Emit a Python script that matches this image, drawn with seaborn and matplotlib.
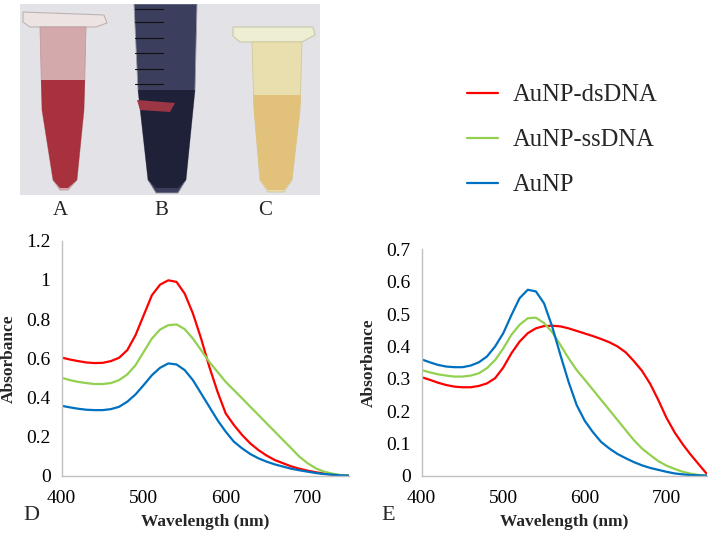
import matplotlib
matplotlib.use("Agg")
import matplotlib.pyplot as plt
from matplotlib.patches import Polygon, Rectangle
import pandas as pd
import seaborn as sns

# ---- data (every 10 nm) ----
wavelength = [400, 410, 420, 430, 440, 450, 460, 470, 480, 490,
              500, 510, 520, 530, 540, 550, 560, 570, 580, 590,
              600, 610, 620, 630, 640, 650, 660, 670, 680, 690,
              700, 710, 720, 730, 740, 750]

# panel D
d_dsdna = [0.604, 0.594, 0.586, 0.579, 0.576, 0.577, 0.586, 0.603, 0.642, 0.718,
           0.82, 0.922, 0.976, 0.998, 0.99, 0.93, 0.829, 0.701, 0.557, 0.43,
           0.319, 0.26, 0.209, 0.166, 0.132, 0.104, 0.081, 0.065, 0.049, 0.037,
           0.027, 0.019, 0.012, 0.007, 0.003, 0.002]
d_ssdna = [0.501, 0.489, 0.48, 0.474, 0.469, 0.469, 0.474, 0.489, 0.518, 0.565,
           0.633, 0.701, 0.747, 0.769, 0.773, 0.749, 0.701, 0.642, 0.582, 0.531,
           0.48, 0.438, 0.396, 0.353, 0.311, 0.268, 0.226, 0.183, 0.141, 0.098,
           0.065, 0.039, 0.022, 0.012, 0.005, 0.002]
d_aunp = [0.358, 0.35, 0.343, 0.338, 0.336, 0.336, 0.341, 0.353, 0.379, 0.416,
          0.464, 0.514, 0.552, 0.574, 0.569, 0.54, 0.489, 0.421, 0.353, 0.285,
          0.226, 0.175, 0.141, 0.112, 0.09, 0.073, 0.059, 0.048, 0.037, 0.029,
          0.022, 0.015, 0.01, 0.007, 0.003, 0.002]

# panel E
e_dsdna = [0.305, 0.297, 0.288, 0.281, 0.276, 0.274, 0.274, 0.278, 0.286, 0.302,
           0.335, 0.379, 0.415, 0.441, 0.456, 0.463, 0.464, 0.462, 0.456, 0.448,
           0.44, 0.432, 0.423, 0.413, 0.40, 0.382, 0.355, 0.325, 0.285, 0.235,
           0.18, 0.135, 0.098, 0.065, 0.035, 0.005]
e_ssdna = [0.327, 0.32, 0.314, 0.31, 0.307, 0.307, 0.31, 0.317, 0.333, 0.358,
           0.394, 0.436, 0.467, 0.487, 0.489, 0.472, 0.444, 0.405, 0.364, 0.327,
           0.297, 0.266, 0.235, 0.204, 0.173, 0.142, 0.111, 0.085, 0.065, 0.046,
           0.032, 0.022, 0.013, 0.007, 0.003, 0.001]
e_aunp = [0.36, 0.351, 0.343, 0.338, 0.336, 0.336, 0.341, 0.351, 0.369, 0.40,
          0.441, 0.497, 0.549, 0.575, 0.57, 0.533, 0.461, 0.374, 0.291, 0.219,
          0.17, 0.135, 0.105, 0.085, 0.068, 0.055, 0.043, 0.033, 0.025, 0.019,
          0.013, 0.008, 0.005, 0.003, 0.002, 0.001]

samples = ["AuNP-dsDNA", "AuNP-ssDNA", "AuNP"]
colores = ["#ff0000", "#92d050", "#0070c0"]
x_ticks = [400, 500, 600, 700]
d_yticks = [0, 0.2, 0.4, 0.6, 0.8, 1.0, 1.2]
e_yticks = [0, 0.1, 0.2, 0.3, 0.4, 0.5, 0.6, 0.7]
tube_labels = ["A", "B", "C"]
panel_labels = ["D", "E"]


def to_long(series):
    frames = []
    for name, vals in zip(samples, series):
        frames.append(pd.DataFrame({"Wavelength": wavelength,
                                    "Absorbance": vals,
                                    "Sample": name}))
    return pd.concat(frames, ignore_index=True)


sns.set_style("white")
plt.rcParams["font.family"] = ["Liberation Serif", "DejaVu Serif"]

W, H = 708, 536
fig = plt.figure(figsize=(W / 100, H / 100), dpi=100)


def fx(px):
    return px / W


def fy(py):
    return 1 - py / H


# ---- photo of the tubes (drawn schematically) ----
ax_p = fig.add_axes([fx(20), fy(195), fx(300), 191 / H])
ax_p.set_xlim(20, 320)
ax_p.set_ylim(195, 4)
ax_p.axis("off")
ax_p.add_patch(Rectangle((20, 4), 300, 191, facecolor="#e3e3e7", edgecolor="none"))

# tube A
ax_p.add_patch(Polygon([(23, 12), (104, 15), (107, 23), (96, 27), (30, 27), (23, 22)],
                       facecolor="#ece4e2", edgecolor="#bdb3b3", lw=0.8))
ax_p.add_patch(Polygon([(40, 27), (86, 27), (84, 110), (77, 180), (68, 190), (60, 190),
                        (53, 180), (42, 110)], facecolor="#d3a9ac", edgecolor="#c09a9c", lw=0.6))
ax_p.add_patch(Polygon([(41, 80), (85, 80), (84, 110), (77, 180), (68, 188), (60, 188),
                        (53, 180), (42, 110)], facecolor="#a8313e", edgecolor="none"))

# tube B
ax_p.add_patch(Polygon([(134, 4), (197, 4), (195, 90), (186, 180), (178, 193), (156, 193),
                        (148, 180), (138, 90)], facecolor="#3b3e5c", edgecolor="#9a9aa8", lw=0.6))
ax_p.add_patch(Polygon([(138, 90), (195, 90), (186, 180), (178, 188), (156, 188),
                        (148, 180)], facecolor="#1f2139", edgecolor="none"))
ax_p.add_patch(Polygon([(137, 100), (175, 103), (170, 112), (140, 110)],
                       facecolor="#9c3645", edgecolor="none"))
for gy in [9, 22, 38, 53, 69, 84]:
    ax_p.plot([135, 163], [gy, gy], color="#111111", lw=0.8)

# tube C
ax_p.add_patch(Polygon([(233, 27), (313, 27), (315, 35), (302, 42), (240, 42), (233, 36)],
                       facecolor="#eeeed2", edgecolor="#c8c8aa", lw=0.8))
ax_p.add_patch(Polygon([(252, 42), (302, 42), (300, 110), (292, 180), (284, 192), (268, 192),
                        (260, 180), (254, 110)], facecolor="#e9dfae", edgecolor="#d2c898", lw=0.6))
ax_p.add_patch(Polygon([(253, 95), (301, 95), (300, 110), (292, 180), (284, 190), (268, 190),
                        (260, 180), (254, 110)], facecolor="#e2c27a", edgecolor="none"))

for lab, px in zip(tube_labels, [60, 161, 265]):
    fig.text(fx(px), fy(215), lab, fontsize=15, ha="center", va="baseline")

# ---- absorbance spectra ----
panels = [
    ([d_dsdna, d_ssdna, d_aunp], d_yticks,
     [fx(61.7), fy(476), fx(287), (476 - 240.7) / H]),
    ([e_dsdna, e_ssdna, e_aunp], e_yticks,
     [fx(421.7), fy(476), fx(285.5), (476 - 249.3) / H]),
]

axes = []
for (series, yticks, rect), letter, lx in zip(panels, panel_labels, [23, 381]):
    ax = fig.add_axes(rect)
    df = to_long(series)
    sns.lineplot(data=df, x="Wavelength", y="Absorbance", hue="Sample",
                 hue_order=samples, palette=dict(zip(samples, colores)),
                 linewidth=1.6, legend=False, ax=ax)
    ax.set_xlim(400, 750)
    ax.set_ylim(yticks[0], yticks[-1])
    ax.set_xticks(x_ticks)
    ax.set_yticks(yticks)
    ax.set_yticklabels([f"{v:g}" for v in yticks])
    ax.set_xticklabels([str(v) for v in x_ticks])
    for side in ["top", "right"]:
        ax.spines[side].set_visible(False)
    for side in ["left", "bottom"]:
        ax.spines[side].set_color("#c0c0c0")
        ax.spines[side].set_linewidth(1.0)
    ax.tick_params(axis="both", direction="out", length=3, width=0.8,
                   color="#c0c0c0", labelsize=14, labelcolor="black")
    ax.tick_params(axis="x", pad=7)
    ax.tick_params(axis="y", pad=5)
    ax.set_xlabel("Wavelength (nm)", fontsize=12.5, fontweight="bold", labelpad=5)
    ax.set_ylabel("Absorbance", fontsize=12.5, fontweight="bold", labelpad=7)
    ax.set_facecolor("white")
    fig.text(fx(lx), fy(520), letter, fontsize=16, ha="left", va="baseline")
    axes.append(ax)

handles = axes[0].get_lines()[:3]
fig.legend(handles, samples, loc="upper left", bbox_to_anchor=(fx(467), fy(84)),
           frameon=False, fontsize=17.7, handlelength=1.25, handletextpad=0.6,
           labelspacing=0.93, borderpad=0, borderaxespad=0)

plt.savefig("out.png", dpi=100)
